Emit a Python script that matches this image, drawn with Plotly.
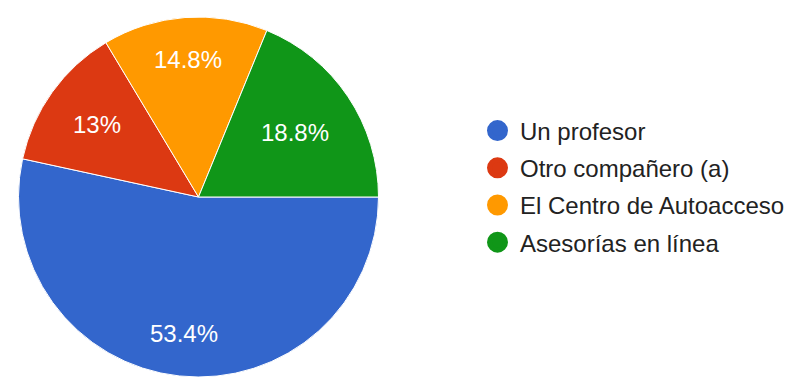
import math
import plotly.graph_objects as go

# Survey answers and their shares (percent)
labels = ["Un profesor", "Otro compañero (a)", "El Centro de Autoacceso", "Asesorías en línea"]
shares = [53.4, 13, 14.8, 18.8]
colors = ["#3366cc", "#dc3912", "#ff9900", "#109618"]

FONT = "Liberation Sans, Arial, sans-serif"
W, H = 804, 381
LABEL_SIZE = 24

# Pie placement (pixels)
left, right, top, bottom = 18, 379, 17, 377
cx, cy = (left + right) / 2, (top + bottom) / 2
R = min(right - left, bottom - top) / 2

fig = go.Figure()

fig.add_trace(go.Pie(
    labels=labels,
    values=shares,
    sort=False,
    direction="clockwise",
    rotation=90,
    marker=dict(colors=colors, line=dict(color="white", width=1)),
    textinfo="none",
    showlegend=False,
    hoverinfo="label+percent",
    domain=dict(x=[left / W, right / W], y=[1 - bottom / H, 1 - top / H]),
))

# Percentage labels: placed along each slice's mid-angle so that the
# outer edge of the text box sits at a fixed fraction of the radius.
char_w = {".": 0.278, "%": 0.889}
total = sum(shares)
start = 0.0  # degrees, measured counter-clockwise from 3 o'clock
for v in shares:
    sweep = 360 * v / total
    mid = math.radians(start - sweep / 2)
    start -= sweep
    txt = f"{v:g}%"
    half_w = LABEL_SIZE * sum(char_w.get(c, 0.556) for c in txt) / 2
    half_h = LABEL_SIZE * 0.36
    reach = half_w * abs(math.cos(mid)) + half_h * abs(math.sin(mid))
    r = 0.83 * R - reach
    px = cx + r * math.cos(mid)
    py = cy - r * math.sin(mid)
    fig.add_annotation(
        x=px / W, y=1 - py / H, xref="paper", yref="paper",
        text=txt, showarrow=False, xanchor="center", yanchor="middle",
        font=dict(family=FONT, size=LABEL_SIZE, color="white"),
    )

# Legend entries with round swatches
for name, col in zip(labels, colors):
    fig.add_trace(go.Scatter(
        x=[None], y=[None], mode="markers", name=name,
        marker=dict(symbol="circle", size=16, color=col, line=dict(color=col, width=5)),
        legendgroup=name,
    ))

fig.update_layout(
    width=W, height=H,
    margin=dict(l=0, r=0, t=0, b=0),
    paper_bgcolor="white", plot_bgcolor="white",
    xaxis=dict(visible=False), yaxis=dict(visible=False),
    legend=dict(
        x=(470 + 5) / W, y=1 - 186.5 / H, xanchor="left", yanchor="middle",
        font=dict(family=FONT, size=24, color="#222222"),
        tracegroupgap=3,
        itemwidth=35,
        bgcolor="rgba(0,0,0,0)",
    ),
)

fig.write_html("out.html")
